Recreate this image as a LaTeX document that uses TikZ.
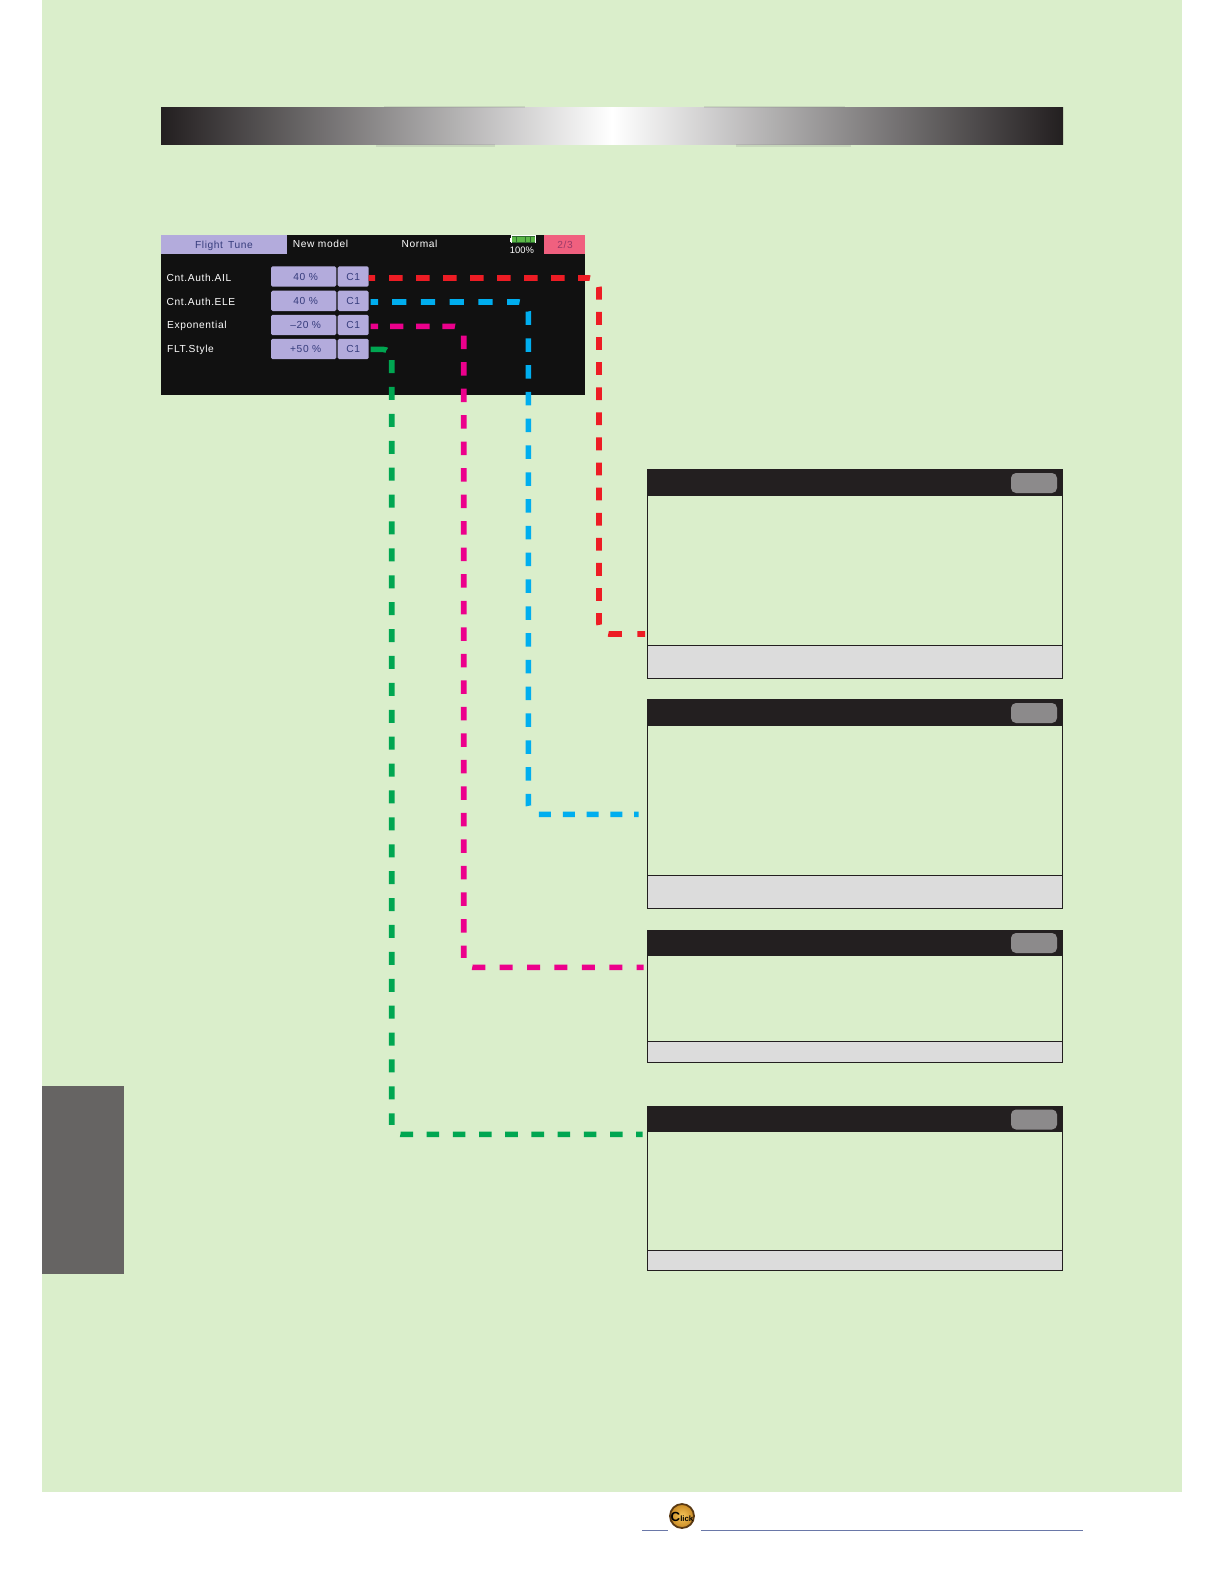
\documentclass[tikz,border=0pt]{standalone}
\usepackage{fontspec}
\setmainfont{Liberation Sans}
\newfontfamily\uif[LetterSpace=6]{Liberation Sans}
\ExplSyntaxOn
\cs_new_eq:NN \dashrep \prg_replicate:nn
\ExplSyntaxOff
\definecolor{pagegreen}{HTML}{DAEECB}
\definecolor{inkdark}{HTML}{231F20}
\definecolor{panelblack}{HTML}{111111}
\definecolor{lilac}{HTML}{B3ABDC}
\definecolor{rosetab}{HTML}{F0607F}
\definecolor{btngrey}{HTML}{8C8A8B}
\definecolor{stripgrey}{HTML}{DCDCDC}
\definecolor{tabgrey}{HTML}{666463}
\definecolor{uitext}{HTML}{363C7C}
\definecolor{pagetext}{HTML}{9A3A68}
\definecolor{battcell}{HTML}{5CB848}
\definecolor{battgap}{HTML}{2E6B2E}
\definecolor{wirered}{HTML}{ED1C24}
\definecolor{wireblue}{HTML}{00AEEF}
\definecolor{wirepink}{HTML}{EC008C}
\definecolor{wiregreen}{HTML}{00A651}
\definecolor{footline}{HTML}{6A78A8}
\definecolor{goldlight}{HTML}{F6C65A}
\definecolor{goldmid}{HTML}{C98A24}
\definecolor{goldring}{HTML}{5A3A14}
\tikzset{
  flat/.style={inner sep=0pt,outer sep=0pt,draw=none},
  uitxt/.style={flat,font=\uif\fontsize{5.1}{6}\selectfont},
  whitetxt/.style={uitxt,text=white},
  bluetxt/.style={uitxt,text=uitext},
  valbox/.style={flat,fill=lilac,rounded corners=0.8pt,minimum width=32.65pt,minimum height=10.2pt,text=uitext,font=\uif\fontsize{5.1}{6}\selectfont},
  cbox/.style={valbox,minimum width=15.5pt},
  frame/.style={flat,draw=inkdark,line width=0.42pt,minimum width=207.5pt},
  head/.style={flat,fill=inkdark,minimum width=207.8pt},
  strip/.style={flat,fill=stripgrey,draw=inkdark,line width=0.42pt,minimum width=207.5pt},
  btn/.style={flat,fill=btngrey,rounded corners=2.5pt,minimum width=23pt,minimum height=10pt},
  wire/.style={line width=2.8pt,rounded corners=#1},
  ghost/.style={fill=gray,opacity=0.2,draw=none},
}
\begin{document}
\begin{tikzpicture}[x=0.5pt,y=-0.5pt]
\useasboundingbox (0,0) rectangle (1224,1584);
\fill[white] (0,0) rectangle (1224,1584);
\fill[pagegreen] (42,0) rectangle (1182,1492);
% side tab
\fill[tabgrey] (42,1086) rectangle (124,1274);
% header bar
\shade[left color=inkdark,right color=inkdark,middle color=white] (161,108) rectangle (1063,144);
\fill[ghost] (384,106.5) rectangle (525,108);
\fill[ghost] (704,106.5) rectangle (845,108);
\fill[ghost] (376,144) rectangle (495,146.5);
\fill[ghost] (736,144) rectangle (851,146.5);
% screen panel
\node[flat,fill=panelblack,minimum width=212.15pt,minimum height=80pt] (panel) at (373.15,315) {};
\node[flat,fill=lilac,minimum width=63pt,minimum height=9.65pt] (title) at (224,244.65) {};
\node[bluetxt] (titletxt) at (224,245.5) {Flight\, Tune};
\node[whitetxt] (modelname) at (320.5,244) {New model};
\node[whitetxt] (condname) at (419.5,244) {Normal};
\node[flat,fill=rosetab,minimum width=20.5pt,minimum height=9.65pt] (pagetab) at (564.8,244.65) {};
\node[uitxt,text=pagetext] (pagetxt) at (565,245) {2/3};
% battery
\node[flat,fill=white,minimum width=12.4pt,minimum height=4pt] (batt) at (523.4,239.4) {};
\fill[white] (509.5,237.5) rectangle (511,241.5);
\fill[battgap] (511.7,236.2) rectangle (535.2,242.6);
\foreach \cx in {512,516.7,521.4,526.1,530.8}
  \fill[battcell] (\cx,236.6) rectangle +(4,5.6);
\node[whitetxt,font=\fontsize{4.7}{6}\selectfont] (battpct) at (522,250.3) {100\%};
% rows
\node[whitetxt,anchor=west] (lab1) at (166.7,277.7) {Cnt.Auth.AIL};
\node[whitetxt,anchor=west] (lab2) at (166.7,301.7) {Cnt.Auth.ELE};
\node[whitetxt,anchor=west] (lab3) at (167.2,325.7) {Exponential};
\node[whitetxt,anchor=west] (lab4) at (167.2,350.3) {FLT.Style};
\node[valbox,text width=32.65pt,align=center] (val1) at (303.65,276.5) {\hspace*{2pt}40 \%};
\node[valbox,text width=32.65pt,align=center] (val2) at (303.65,300.85) {\hspace*{2pt}40 \%};
\node[valbox,text width=32.65pt,align=center] (val3) at (303.65,325) {\hspace*{2pt}\textendash20 \%};
\node[valbox,text width=32.65pt,align=center] (val4) at (303.65,349) {\hspace*{2pt}+50 \%};
\node[cbox] (sw1) at (353.2,276.5) {C1};
\node[cbox] (sw2) at (353.2,300.85) {C1};
\node[cbox] (sw3) at (353.2,325) {C1};
\node[cbox] (sw4) at (353.2,349) {C1};
% box 1
\node[frame,minimum height=104.5pt] (boxa) at (854.5,573.5) {};
\node[head,minimum height=13.5pt] (heada) at (854.5,482.5) {};
\node[strip,minimum height=16.5pt] (stripa) at (854.5,661.5) {};
\node[btn] (btna) at (1034,483) {};
% box 2
\node[frame,minimum height=104.5pt] (boxb) at (854.5,803.5) {};
\node[head,minimum height=13.5pt] (headb) at (854.5,712.5) {};
\node[strip,minimum height=16.5pt] (stripb) at (854.5,891.5) {};
\node[btn] (btnb) at (1034,713) {};
% box 3
\node[frame,minimum height=66pt] (boxc) at (854.5,996) {};
\node[head,minimum height=13pt] (headc) at (854.5,943) {};
\node[strip,minimum height=10.5pt] (stripc) at (854.5,1051.5) {};
\node[btn] (btnc) at (1034,943) {};
% box 4
\node[frame,minimum height=82pt] (boxd) at (854.5,1188) {};
\node[head,minimum height=13pt] (headd) at (854.5,1119) {};
\node[strip,minimum height=10pt] (stripd) at (854.5,1260) {};
\node[btn] (btnd) at (1034,1119.5) {};
% connectors
\coordinate (elbowa) at (599,634);   \coordinate (enda) at (645,634);
\coordinate (elbowb) at (528.3,814.3); \coordinate (endb) at (638.6,814.3);
\coordinate (elbowc) at (463.7,967.3); \coordinate (endc) at (644,967.3);
\coordinate (elbowd) at (391.7,1134.3); \coordinate (endd) at (643,1134.3);
\draw[wire=5pt,wirered,dash pattern/.expanded={on 3.15pt off 7pt \dashrep{7}{on 6.75pt off 6.75pt } on 6pt off 6.75pt \dashrep{13}{on 6.4pt off 6.15pt } on 5.85pt off 7pt on 6.85pt off 7.65pt on 4pt off 4pt}]
  ([yshift=-0.75pt]sw1.east) -| (elbowa) -- (enda);
\draw[wire=4.75pt,wireblue,dash pattern/.expanded={on 3.65pt off 7pt \dashrep{4}{on 7.15pt off 7.225pt } on 6.3pt off 7pt \dashrep{18}{on 6.75pt off 6.65pt } on 6pt off 7.45pt \dashrep{4}{on 6pt off 5.9pt } on 2.8pt off 4pt}]
  ([xshift=1pt,yshift=-0.575pt]sw2.east) -| (elbowb) -- (endb);
\draw[wire=4.5pt,wirepink,dash pattern/.expanded={on 3.65pt off 6pt \dashrep{2}{on 6.65pt off 6.45pt } on 6.3pt off 7pt \dashrep{23}{on 6.75pt off 6.51pt } on 6.15pt off 7.05pt \dashrep{6}{on 6.5pt off 7.2pt } on 3.5pt off 4pt}]
  ([xshift=1pt,yshift=-0.65pt]sw3.east) -| (elbowc) -- (endc);
\draw[wire=4.5pt,wiregreen,dash pattern/.expanded={on 8pt off 5.9pt \dashrep{28}{on 6.5pt off 6.95pt } on 5.85pt off 7.05pt \dashrep{9}{on 6.3pt off 6.8pt } on 3.15pt off 4pt}]
  ([xshift=1pt,yshift=-0.15pt]sw4.east) -| (elbowd) -- (endd);
% footer
\coordinate (fa) at (642,1530.3); \coordinate (fb) at (668,1530.3);
\coordinate (fc) at (701,1530.3); \coordinate (fd) at (1083,1530.3);
\draw[footline,line width=0.6pt] (fa) -- (fb) (fc) -- (fd);
\shade[inner color=goldlight,outer color=goldmid,draw=goldring,line width=0.9pt] (682,1516) circle [radius=12];
\node[flat,text=black,font=\bfseries] (clicktxt) at (682,1516.5) {\fontsize{6.6}{7}\selectfont C\fontsize{3.9}{4}\selectfont lick};
\end{tikzpicture}
\end{document}
